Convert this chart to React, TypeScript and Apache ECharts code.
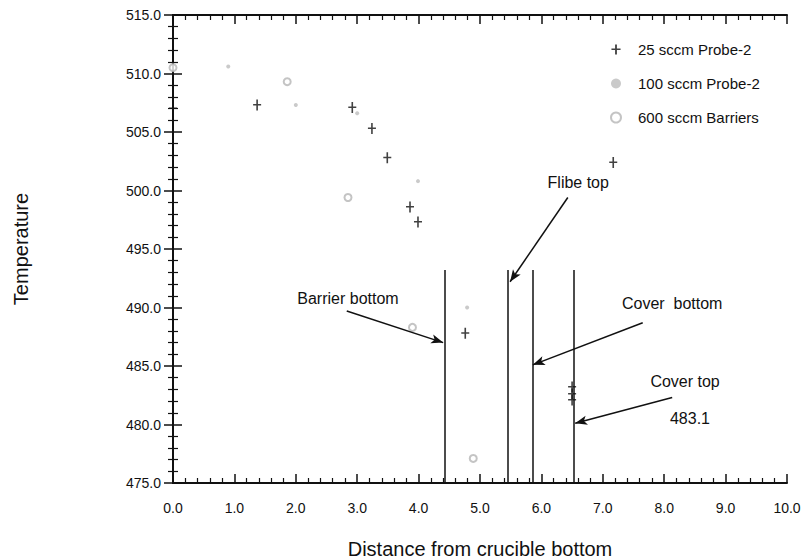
import React, { useEffect, useRef } from "react";
import * as echarts from "echarts";

// ---- data ----
const probe25X = [0.0, 1.37, 2.92, 3.24, 3.49, 3.86, 3.99, 4.76, 6.5, 6.5, 6.5, 7.17];
const probe25Y = [507.0, 507.3, 507.1, 505.3, 502.8, 498.6, 497.3, 487.8, 483.2, 482.6, 482.1, 502.4];
const probe100X = [0.9, 2.0, 3.0, 3.99, 4.79];
const probe100Y = [510.6, 507.3, 506.6, 500.8, 490.0];
const barriers600X = [0.0, 1.86, 2.85, 3.9, 4.89];
const barriers600Y = [510.5, 509.3, 499.4, 488.3, 477.1];
const seriesNames = ["25 sccm Probe-2", "100 sccm Probe-2", "600 sccm Barriers"];

// vertical boundary lines (x positions) and their extent
const boundaryX = [4.42, 5.46, 5.86, 6.53];
const boundaryLow = 475.0;
const boundaryHigh = 493.2;

// annotations: text and anchor (x, y) in data units
const annotationText = ["Barrier bottom", "Flibe top", "Cover  bottom", "Cover top", "483.1"];
const annotationX = [2.85, 6.6, 8.13, 8.34, 8.42];
const annotationY = [490.8, 500.7, 490.3, 483.7, 480.5];
// arrows: from (x,y) to (x,y)
const arrowFromX = [2.83, 6.43, 7.65, 8.13];
const arrowFromY = [489.7, 499.4, 488.7, 482.3];
const arrowToX = [4.40, 5.49, 5.86, 6.55];
const arrowToY = [487.0, 492.2, 485.1, 480.1];

const X_MIN = 0, X_MAX = 10, X_STEP = 1;
const Y_MIN = 475, Y_MAX = 515, Y_STEP = 5;

const INK = "#111";
const FONT = "'Liberation Sans', Arial, sans-serif";
const PLUS = "path://M4,0L6,0L6,4.5L10,4.5L10,6L6,6L6,11L4,11L4,6L0,6L0,4.5L4,4.5Z";

const zip = (xs: number[], ys: number[]) => xs.map((x, i) => [x, ys[i]]);

export default function App() {
  const ref = useRef<HTMLDivElement>(null);
  useEffect(() => {
    if (!ref.current) return;
    const chart = echarts.init(ref.current, null, { renderer: "svg" });
    const tick = { show: true, inside: true, length: 9, lineStyle: { color: INK, width: 1.5 } };
    const minor = { show: true, splitNumber: 5, length: 5, lineStyle: { color: INK, width: 1.2 } };
    const axisLine = { show: true, lineStyle: { color: INK, width: 2 } };
    const baseX = {
      type: "value", min: X_MIN, max: X_MAX, interval: X_STEP,
      axisLine, axisTick: tick, minorTick: minor, splitLine: { show: false },
    };
    const baseY = {
      type: "value", min: Y_MIN, max: Y_MAX, interval: Y_STEP,
      axisLine, axisTick: tick, minorTick: minor, splitLine: { show: false },
    };
    const option: any = {
      animation: false,
      backgroundColor: "#fff",
      textStyle: { fontFamily: FONT },
      grid: { left: 173, right: 24, top: 15, bottom: 77, containLabel: false, outerBoundsMode: "none" },
      legend: {
        orient: "vertical",
        left: 605,
        top: 37,
        itemGap: 19,
        itemWidth: 10,
        itemHeight: 10,
        data: seriesNames,
        textStyle: { fontSize: 15, color: INK, fontFamily: FONT, padding: [0, 0, 0, 12] },
      },
      xAxis: [
        {
          ...baseX,
          position: "bottom",
          name: "Distance from crucible bottom",
          nameLocation: "middle",
          nameGap: 56,
          nameTextStyle: { fontSize: 20, color: INK, fontFamily: FONT },
          axisLabel: { color: INK, fontSize: 14, margin: 18, formatter: (v: number) => v.toFixed(1) },
        },
        { ...baseX, position: "top", axisLabel: { show: false } },
      ],
      yAxis: [
        {
          ...baseY,
          position: "left",
          name: "Temperature",
          nameLocation: "middle",
          nameRotate: 90,
          nameGap: 142,
          nameTextStyle: { fontSize: 20, color: INK, fontFamily: FONT },
          axisLabel: { color: INK, fontSize: 14, margin: 12, formatter: (v: number) => v.toFixed(1) },
        },
        { ...baseY, position: "right", axisLabel: { show: false } },
      ],
      series: [
        {
          name: seriesNames[0],
          type: "scatter",
          symbol: PLUS,
          symbolSize: [8, 11],
          itemStyle: { color: INK },
          data: zip(probe25X, probe25Y),
          z: 5,
        },
        {
          name: seriesNames[1],
          type: "scatter",
          symbol: "circle",
          symbolSize: 4,
          itemStyle: { color: "#bdbdbd" },
          data: zip(probe100X, probe100Y),
        },
        {
          name: seriesNames[2],
          type: "scatter",
          symbol: "emptyCircle",
          symbolSize: 7,
          itemStyle: { color: "#b5b5b5", borderWidth: 1 },
          data: zip(barriers600X, barriers600Y),
        },
        {
          name: "annotations",
          type: "scatter",
          data: [],
          silent: true,
          markLine: {
            silent: true,
            symbol: ["none", "none"],
            label: { show: false },
            lineStyle: { color: INK, width: 1.5, type: "solid" },
            data: boundaryX.map((x) => [
              { coord: [x, boundaryLow] },
              { coord: [x, boundaryHigh] },
            ]),
          },
          markPoint: {
            silent: true,
            symbol: "circle",
            symbolSize: 0,
            label: {
              show: true,
              position: "inside",
              color: INK,
              fontSize: 16,
              fontFamily: FONT,
              formatter: (p: any) => p.name,
            },
            data: annotationText.map((t, i) => ({
              name: t,
              coord: [annotationX[i], annotationY[i]],
            })),
          },
        },
        {
          name: "arrows",
          type: "scatter",
          data: [],
          silent: true,
          markLine: {
            silent: true,
            symbol: ["none", "arrow"],
            symbolSize: [7, 12],
            label: { show: false },
            lineStyle: { color: INK, width: 1.5, type: "solid" },
            data: arrowFromX.map((x, i) => [
              { coord: [x, arrowFromY[i]] },
              { coord: [arrowToX[i], arrowToY[i]] },
            ]),
          },
        },
      ],
    };
    chart.setOption(option);
    return () => chart.dispose();
  }, []);
  return <div ref={ref} style={{ width: 811, height: 560, position: "absolute", left: 0, top: 0 }} />;
}
